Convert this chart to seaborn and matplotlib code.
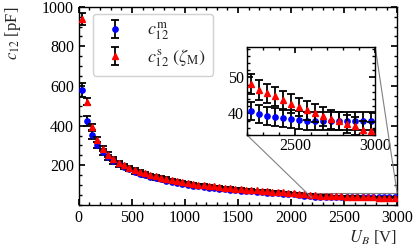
import matplotlib
matplotlib.use("Agg")
import matplotlib.pyplot as plt
from matplotlib.ticker import MultipleLocator
from mpl_toolkits.axes_grid1.inset_locator import mark_inset
import seaborn as sns

# bias voltage [V]
voltage = [25, 75, 125, 175, 225, 275, 325, 375, 425, 475,
           525, 575, 625, 675, 725, 775, 825, 875, 925, 975,
           1025, 1075, 1125, 1175, 1225, 1275, 1325, 1375, 1425, 1475,
           1525, 1575, 1625, 1675, 1725, 1775, 1825, 1875, 1925, 1975,
           2025, 2075, 2125, 2175, 2225, 2275, 2325, 2375, 2425, 2475,
           2525, 2575, 2625, 2675, 2725, 2775, 2825, 2875, 2925, 2975]

# measured c12 [pF]
c_meas = [580, 425, 352, 303, 267, 240, 220, 204, 191, 179,
          168, 158, 149, 142, 135, 129, 123, 117, 112, 106,
          100, 96, 93, 90, 87, 84, 81, 78, 76, 74,
          72, 70, 68, 66, 64, 62, 60, 58, 57, 55,
          53, 50, 47, 44, 40.6, 39.9, 39.4, 39.0, 38.7, 38.4,
          38.2, 38.0, 38.0, 38.0, 38.0, 37.9, 37.9, 37.9, 37.9, 37.9]
err_meas = [35, 25, 20, 17, 15, 14, 13, 12, 11, 10,
            10, 9, 9, 8, 8, 8, 7, 7, 7, 6,
            6, 6, 6, 5.5, 5.5, 5, 5, 5, 4.5, 4.5,
            4.5, 4, 4, 4, 4, 3.8, 3.6, 3.5, 3.4, 3.3,
            3.2, 3, 2.9, 2.7, 2.5, 2.5, 2.5, 2.5, 2.5, 2.5,
            2.5, 2.5, 2.5, 2.5, 2.5, 2.5, 2.5, 2.5, 2.5, 2.5]

# simulated c12 (zeta_M) [pF]
c_sim = [940, 520, 395, 328, 284, 254, 231, 214, 200, 188,
         177, 167, 159, 151, 144, 138, 132, 126, 121, 116,
         110, 106, 102, 99, 96, 93, 90, 87, 84, 82,
         80, 77, 75, 73, 71, 69, 67, 65, 63, 61,
         59, 56, 53, 50.5, 48.2, 46.6, 45.6, 44.7, 43.6, 42.7,
         41.8, 40.8, 40.1, 39.2, 38.3, 37.9, 37.1, 36.4, 35.5, 35.1]
err_sim = [30, 18, 15, 13, 12, 11, 10, 10, 9, 9,
           8, 8, 8, 7, 7, 7, 6.5, 6.5, 6, 6,
           6, 5.5, 5.5, 5.5, 5, 5, 5, 4.5, 4.5, 4.5,
           4.5, 4, 4, 4, 4, 3.8, 3.6, 3.5, 3.4, 3.3,
           3.2, 3.1, 3, 2.9, 2.8, 2.8, 2.7, 2.7, 2.7, 2.6,
           2.6, 2.6, 2.6, 2.6, 2.6, 2.5, 2.5, 2.5, 2.5, 2.5]

sns.set_theme(style="ticks")
plt.rcParams["font.family"] = ["Liberation Serif", "DejaVu Serif"]
plt.rcParams["mathtext.fontset"] = "stix"
plt.rcParams["font.size"] = 11.5
plt.rcParams["xtick.direction"] = "in"
plt.rcParams["ytick.direction"] = "in"
plt.rcParams["xtick.top"] = True
plt.rcParams["ytick.right"] = True
plt.rcParams["xtick.labelsize"] = 11.5
plt.rcParams["ytick.labelsize"] = 11.5
plt.rcParams["axes.linewidth"] = 1.0
plt.rcParams["xtick.major.size"] = 4
plt.rcParams["ytick.major.size"] = 4
plt.rcParams["xtick.minor.size"] = 2
plt.rcParams["ytick.minor.size"] = 2
plt.rcParams["xtick.color"] = "black"
plt.rcParams["ytick.color"] = "black"
plt.rcParams["axes.edgecolor"] = "black"


def draw(ax):
    ax.errorbar(voltage, c_meas, yerr=err_meas, fmt="o", color="blue",
                ecolor="black", elinewidth=1.3, capsize=2.6, capthick=1.3,
                markersize=3.8, label=r"$c_{12}^{\mathrm{m}}$", zorder=3)
    ax.errorbar(voltage, c_sim, yerr=err_sim, fmt="^", color="red",
                ecolor="black", elinewidth=1.3, capsize=2.6, capthick=1.3,
                markersize=4.2, label=r"$c_{12}^{\mathrm{s}}\ (\zeta_{\mathrm{M}})$",
                zorder=4)


fig = plt.figure(figsize=(4.15, 2.49), dpi=100)
ax = fig.add_axes([0.190, 0.177, 0.767, 0.796])
draw(ax)
ax.set_xlim(0, 3000)
ax.set_ylim(0, 1000)
ax.xaxis.set_major_locator(MultipleLocator(500))
ax.xaxis.set_minor_locator(MultipleLocator(100))
ax.yaxis.set_major_locator(MultipleLocator(200))
ax.yaxis.set_minor_locator(MultipleLocator(50))
ax.set_yticks([200, 400, 600, 800, 1000])
ax.set_xlabel(r"$U_B$ [V]", loc="right", labelpad=2)
ax.set_ylabel(r"$c_{12}$ [pF]", loc="top")
ax.yaxis.set_label_coords(-0.175, 1.0)

leg = ax.legend(loc="upper left", bbox_to_anchor=(0.044, 0.965), frameon=True,
                fancybox=True, edgecolor="0.82", framealpha=1.0, fontsize=13,
                borderpad=0.4, handletextpad=0.9, labelspacing=0.25,
                handlelength=1.7, borderaxespad=0)

# zoomed inset
axins = fig.add_axes([0.595, 0.458, 0.309, 0.354])
draw(axins)
axins.set_xlim(2200, 3000)
axins.set_ylim(34, 58.5)
axins.xaxis.set_major_locator(MultipleLocator(500))
axins.xaxis.set_minor_locator(MultipleLocator(100))
axins.yaxis.set_major_locator(MultipleLocator(10))
axins.yaxis.set_minor_locator(MultipleLocator(2))
axins.tick_params(labelsize=11.5, pad=2)
mark_inset(ax, axins, loc1=1, loc2=3, fc="none", ec="0.5", lw=0.8)

fig.savefig("out.png", dpi=100)
